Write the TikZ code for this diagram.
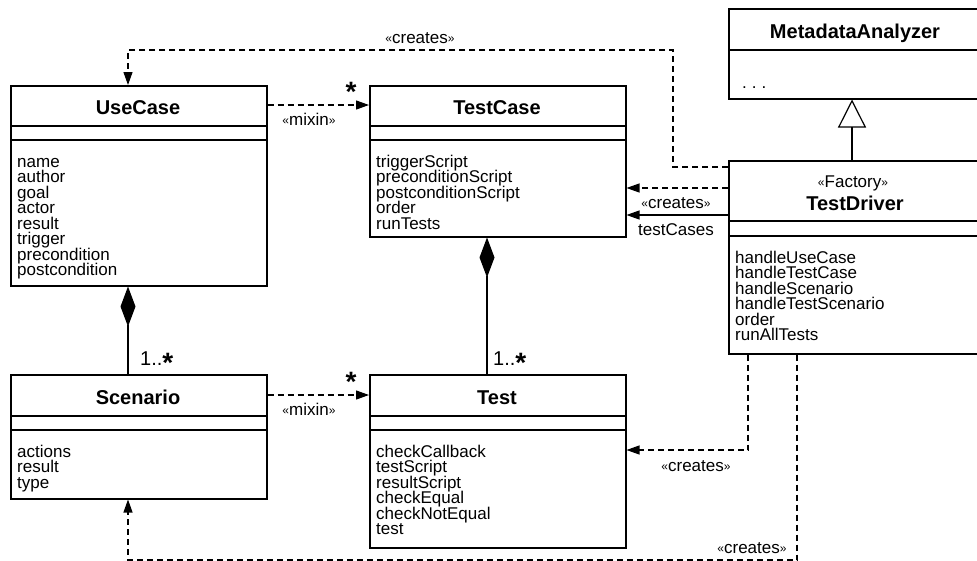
\documentclass[tikz,border=0pt]{standalone}
\usepackage{fontspec}
\setmainfont{Liberation Sans}
\usetikzlibrary{arrows.meta,calc}
\newcommand\guil[1]{{\fontsize{12}{12}\selectfont\raisebox{0.5pt}{#1}}}
\newcommand\stereo[1]{\guil{«}#1\guil{»}}
\newcommand\attrfont{\fontsize{17}{15.5}\selectfont\lineskiplimit=-100pt\relax}
\newcommand\bigstar{{\fontsize{28}{28}\selectfont\bfseries\raisebox{-7pt}{*}}}
\begin{document}
\begin{tikzpicture}[x=1pt,y=-1pt,
  cls/.style={draw,line width=1.5pt,rectangle,inner sep=0,anchor=north west},
  sepline/.style={line width=1.5pt},
  title/.style={font=\fontsize{20}{20}\selectfont\bfseries,inner sep=0,anchor=base},
  attrs/.style={font=\attrfont,align=left,anchor=north west,inner sep=0},
  lbl/.style={font=\fontsize{17}{17}\selectfont,inner sep=0,anchor=base},
  mult/.style={font=\fontsize{20}{20}\selectfont,inner sep=0,anchor=base west},
  dep/.style={line width=1.2pt,dash pattern=on 6pt off 4pt,-{Triangle[length=13pt,width=9pt]}},
  assoc/.style={line width=1.2pt,-{Triangle[length=13pt,width=9pt]}},
  comp/.style={line width=1.2pt,{Diamond[length=40pt,width=15pt]}-},
  inh/.style={line width=1.2pt,-{Triangle[open,length=28pt,width=28pt,fill=white]}},
]
\useasboundingbox (0,0) rectangle (977,560);
\fill[white] (0,0) rectangle (977,560);
\clip (0,0) rectangle (977,560);

% classes
\node[cls,minimum width=256pt,minimum height=200pt] (UC) at (10,85) {};
\node[cls,minimum width=256pt,minimum height=151pt] (TC) at (369,85) {};
\node[cls,minimum width=256pt,minimum height=124pt] (SC) at (10,374) {};
\node[cls,minimum width=256pt,minimum height=173pt] (TS) at (369,374) {};
\node[cls,minimum width=254pt,minimum height=90pt] (MA) at (728,8) {};
\node[cls,minimum width=254pt,minimum height=193pt] (TD) at (728,160) {};

% compartments
\draw[sepline] ($(UC.north west)+(0,41)$) -- ($(UC.north east)+(0,41)$);
\draw[sepline] ($(UC.north west)+(0,55)$) -- ($(UC.north east)+(0,55)$);
\draw[sepline] ($(TC.north west)+(0,41)$) -- ($(TC.north east)+(0,41)$);
\draw[sepline] ($(TC.north west)+(0,55)$) -- ($(TC.north east)+(0,55)$);
\draw[sepline] ($(SC.north west)+(0,42)$) -- ($(SC.north east)+(0,42)$);
\draw[sepline] ($(SC.north west)+(0,56)$) -- ($(SC.north east)+(0,56)$);
\draw[sepline] ($(TS.north west)+(0,42)$) -- ($(TS.north east)+(0,42)$);
\draw[sepline] ($(TS.north west)+(0,56)$) -- ($(TS.north east)+(0,56)$);
\draw[sepline] ($(MA.north west)+(0,42)$) -- ($(MA.north east)+(0,42)$);
\draw[sepline] ($(TD.north west)+(0,61)$) -- ($(TD.north east)+(0,61)$);
\draw[sepline] ($(TD.north west)+(0,76)$) -- ($(TD.north east)+(0,76)$);

% titles
\node[title] (tUC) at (138,114) {UseCase};
\node[title] (tTC) at (497,114) {TestCase};
\node[title] (tSC) at (138,404) {Scenario};
\node[title] (tTS) at (497,404) {Test};
\node[title] (tMA) at (855,38) {MetadataAnalyzer};
\node[lbl] (sTD) at (853,187) {\stereo{Factory}};
\node[title] (tTD) at (855,210) {TestDriver};

% attributes
\node[attrs] (aUC) at (17,154) {\rule{0pt}{13pt}name\\author\\goal\\actor\\result\\trigger\\precondition\\postcondition};
\node[attrs] (aTC) at (376,154) {\rule{0pt}{13pt}triggerScript\\preconditionScript\\postconditionScript\\order\\runTests};
\node[attrs] (aSC) at (17,444) {\rule{0pt}{13pt}actions\\result\\type};
\node[attrs] (aTS) at (376,444) {\rule{0pt}{13pt}checkCallback\\testScript\\resultScript\\checkEqual\\checkNotEqual\\test};
\node[attrs] (aTD) at (735,250) {\rule{0pt}{13pt}handleUseCase\\handleTestCase\\handleScenario\\handleTestScenario\\order\\runAllTests};
\node[lbl,anchor=base west] (aMA) at (742,88) {.\hspace{5pt}.\hspace{5pt}.};

% connectors
\draw[dep] ($(TD.north west)+(0,7)$) -| ++(-55,-117) -| ($(UC.north west)+(118,0)$);
\node[lbl] (l1) at (420,43) {\stereo{creates}};

\draw[dep] ($(TD.north west)+(0,28)$) coordinate (p2) -- (p2 -| TC.east);
\draw[assoc] ($(TD.north west)+(0,55)$) coordinate (p3) -- (p3 -| TC.east);
\node[lbl] (l3) at (676,208) {\stereo{creates}};
\node[lbl] (l3b) at (676,235) {testCases};

\draw[dep] ($(UC.north east)+(0,20)$) coordinate (p4) -- (p4 -| TC.west);
\node[lbl] (l4) at (309,125) {\stereo{mixin}};
\node[inner sep=0,anchor=base] (s4) at (351,94) {\bigstar};

\draw[dep] ($(SC.north east)+(0,21)$) coordinate (p5) -- (p5 -| TS.west);
\node[lbl] (l5) at (309,415) {\stereo{mixin}};
\node[inner sep=0,anchor=base] (s5) at (351,384) {\bigstar};

\draw[comp] ($(UC.south west)+(118,0)$) -- ($(SC.north west)+(118,0)$);
\node[mult] (m1) at (140,365) {1..\bigstar};
\draw[comp] ($(TC.south west)+(118,0)$) -- ($(TS.north west)+(118,0)$);
\node[mult] (m2) at (493,365) {1..\bigstar};

\draw[dep] ($(TD.south west)+(20,0)$) |- ($(TS.north east)+(0,76)$);
\node[lbl] (l8) at (696,471) {\stereo{creates}};

\draw[dep] ($(TD.south west)+(69,0)$) -- ++(0,205.5) -| ($(SC.south west)+(118,0)$);
\node[lbl] (l9) at (752,553) {\stereo{creates}};

\draw[inh] ($(TD.north west)+(124,0)$) -- ($(MA.south west)+(124,0)$);
\end{tikzpicture}
\end{document}
